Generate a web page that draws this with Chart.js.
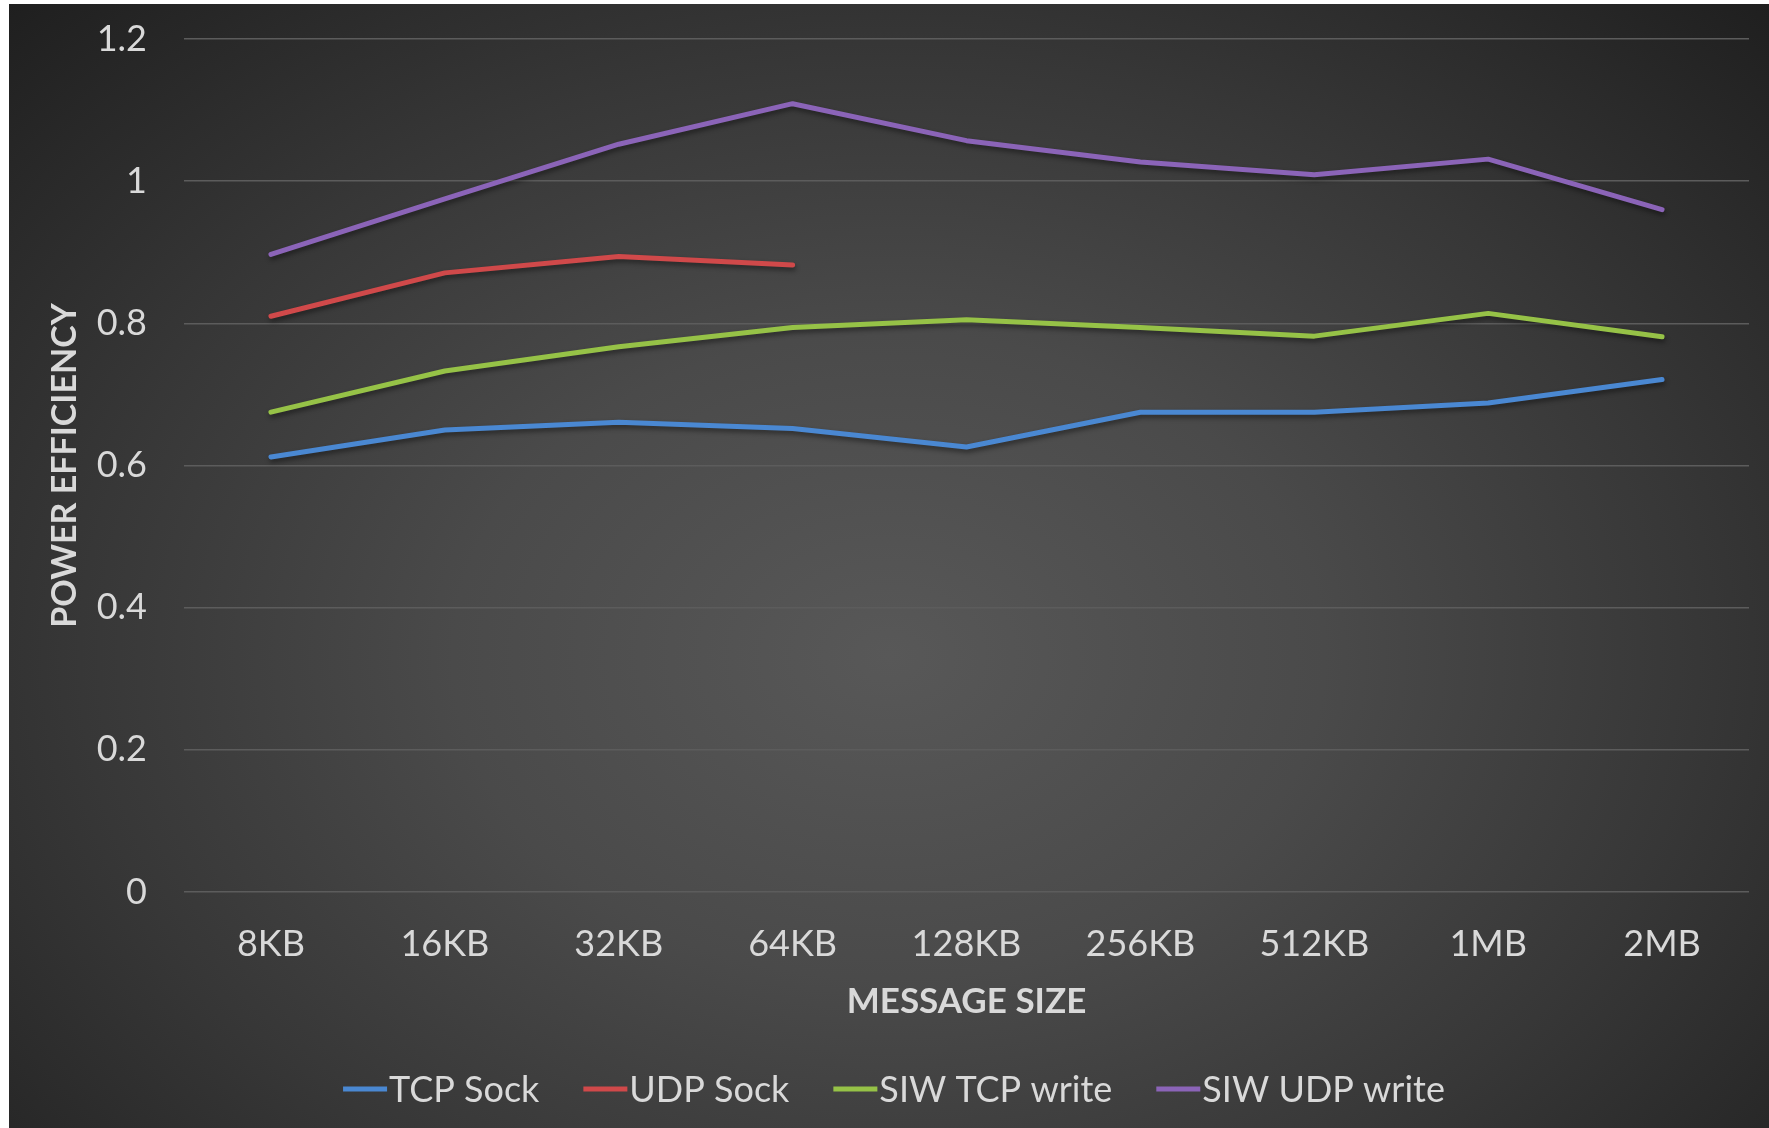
<!DOCTYPE html>
<html>
<head>
<meta charset="utf-8">
<title>Power efficiency by message size</title>
<script src="https://cdn.jsdelivr.net/npm/chart.js@4.4.1/dist/chart.umd.min.js"></script>
<style>
  html, body { margin: 0; padding: 0; background: #fff; }
  #wrap {
    position: absolute;
    left: 9px; top: 4px;
    width: 1760px; height: 1124px;
    background: radial-gradient(ellipse farthest-corner at 50% 58%, #585858 0%, #4a4a4a 35%, #373737 65%, #1f1f1f 100%);
  }
</style>
</head>
<body>
<div id="wrap"><canvas id="chart"></canvas></div>
<script>
const categories = ['8KB', '16KB', '32KB', '64KB', '128KB', '256KB', '512KB', '1MB', '2MB'];
const tcpSock     = [0.612, 0.650, 0.661, 0.652, 0.626, 0.675, 0.675, 0.688, 0.721];
const udpSock     = [0.810, 0.871, 0.894, 0.882, null, null, null, null, null];
const siwTcpWrite = [0.675, 0.733, 0.767, 0.794, 0.805, 0.794, 0.782, 0.814, 0.781];
const siwUdpWrite = [0.897, 0.975, 1.052, 1.109, 1.057, 1.027, 1.009, 1.031, 0.960];
const yTicks = [0, 0.2, 0.4, 0.6, 0.8, 1, 1.2];

const textColor = '#d9d9d9';
const fontFamily = 'Lato, "Open Sans", sans-serif';

// soft drop shadow under the series lines
const lineShadow = {
  id: 'lineShadow',
  beforeDatasetsDraw(chart) {
    const ctx = chart.ctx;
    ctx.save();
    ctx.shadowColor = 'rgba(0, 0, 0, 0.45)';
    ctx.shadowBlur = 5;
    ctx.shadowOffsetX = 1;
    ctx.shadowOffsetY = 3;
  },
  afterDatasetsDraw(chart) {
    chart.ctx.restore();
  }
};

// legend: short line swatch with the label right next to it
const lineLegend = {
  id: 'lineLegend',
  afterDraw(chart) {
    const ctx = chart.ctx;
    const swatch = 44, gap = 44, y = 1085;
    ctx.save();
    ctx.font = '36px ' + fontFamily;
    ctx.textBaseline = 'middle';
    const items = chart.data.datasets.map(ds => ({
      label: ds.label,
      color: ds.borderColor,
      w: swatch + 2 + ctx.measureText(ds.label).width
    }));
    const total = items.reduce((s, it) => s + it.w, 0) + gap * (items.length - 1);
    let x = chart.width / 2 + 5 - total / 2;
    items.forEach(it => {
      ctx.fillStyle = it.color;
      ctx.fillRect(x, y - 2.5, swatch, 5);
      ctx.fillStyle = textColor;
      ctx.fillText(it.label, x + swatch + 2, y + 1);
      x += it.w + gap;
    });
    ctx.restore();
  }
};

function series(label, data, color) {
  return {
    label: label,
    data: data,
    borderColor: color,
    backgroundColor: color,
    borderWidth: 5,
    borderCapStyle: 'round',
    borderJoinStyle: 'round',
    pointRadius: 0,
    pointHoverRadius: 0,
    tension: 0,
    spanGaps: false,
    fill: false
  };
}

new Chart(document.getElementById('chart'), {
  type: 'line',
  data: {
    labels: categories,
    datasets: [
      series('TCP Sock', tcpSock, '#4a88d2'),
      series('UDP Sock', udpSock, '#d0494a'),
      series('SIW TCP write', siwTcpWrite, '#96c247'),
      series('SIW UDP write', siwUdpWrite, '#8b64b8')
    ]
  },
  options: {
    responsive: true,
    maintainAspectRatio: false,
    animation: false,
    layout: { padding: { top: 35, right: 20, bottom: 95, left: 0 } },
    plugins: {
      legend: { display: false },
      tooltip: { enabled: false }
    },
    scales: {
      x: {
        offset: true,
        grid: { display: false, drawTicks: false },
        border: { display: false },
        ticks: {
          color: textColor,
          font: { family: fontFamily, size: 36 },
          padding: 31,
          maxRotation: 0
        },
        title: {
          display: true,
          text: 'MESSAGE SIZE',
          color: textColor,
          font: { family: fontFamily, size: 35, weight: 'bold' },
          padding: { top: 0, bottom: 10 }
        },
        afterFit(scale) { scale.height = 141; }
      },
      y: {
        min: 0,
        max: 1.2,
        afterBuildTicks(scale) { scale.ticks = yTicks.map(v => ({ value: v })); },
        // invisible tick marks keep the labels off the grid without adding top padding
        grid: { color: '#5c5c5c', lineWidth: 1.5, drawTicks: true, tickLength: 37, tickColor: 'rgba(0,0,0,0)' },
        border: { display: false },
        ticks: {
          color: textColor,
          font: { family: fontFamily, size: 36 },
          padding: 0,
          callback: v => String(+v.toFixed(1))
        },
        title: {
          display: true,
          text: 'POWER EFFICIENCY',
          color: textColor,
          font: { family: fontFamily, size: 34, weight: 'bold' },
          padding: { top: 36, bottom: 0 }
        },
        afterFit(scale) { scale.width = 175; }
      }
    }
  },
  plugins: [lineShadow, lineLegend]
});
</script>
</body>
</html>
